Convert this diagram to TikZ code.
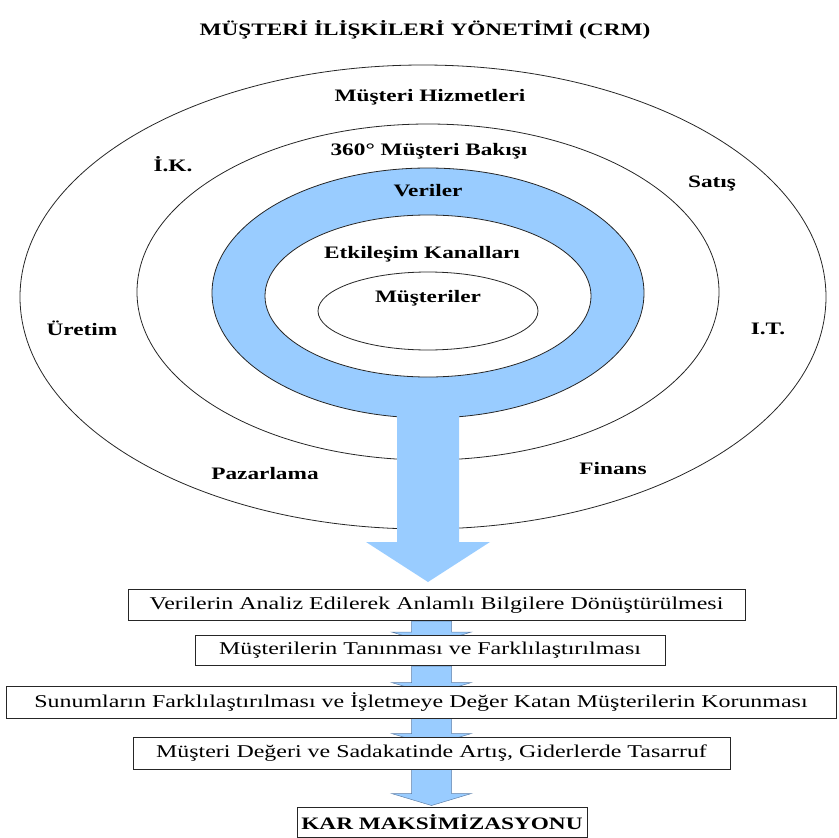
\documentclass[tikz,border=0pt]{standalone}
\usepackage{fontspec}
\setmainfont{Liberation Serif}[FakeStretch=1.33]
\usetikzlibrary{shapes.geometric,calc,backgrounds}

\definecolor{crmblue}{RGB}{153,204,255}
\definecolor{arrowedge}{RGB}{96,128,168}

\tikzset{
  ring/.style={ellipse, draw=black!85, line width=0.8pt, inner sep=0pt},
  lab/.style={font=\fontsize{17.5}{20}\selectfont\bfseries, inner sep=0pt},
  stepbox/.style={draw=black!85, line width=1pt, fill=white, inner sep=0pt,
    font=\fontsize{18}{20}\selectfont, minimum height=31pt},
}

% block arrow between two boxes: from, to, offset of the wings above the lower box
\newcommand\flowarrow[3]{%
  \filldraw[fill=crmblue, draw=arrowedge, line width=0.5pt]
    ($(#1.south -| axis)+(-20,0)$) -- ($(#1.south -| axis)+(20,0)$)
    -- ($(#2.north -| axis)+(20,#3)$) -- ($(#2.north -| axis)+(40,#3)$)
    -- ($(#2.north -| axis)+(0,#3+12)$)
    -- ($(#2.north -| axis)+(-40,#3)$) -- ($(#2.north -| axis)+(-20,#3)$) -- cycle;}

\begin{document}
\begin{tikzpicture}[x=1pt,y=-1pt]
\useasboundingbox (0,0) rectangle (839,838);

\node[lab] (title) at (425,30) {MÜŞTERİ İLİŞKİLERİ YÖNETİMİ (CRM)};

% rings
\node[ring, minimum width=806pt, minimum height=464pt] (hizmet) at (423,297) {};
\node[ring, minimum width=582pt, minimum height=336pt] (bakis) at (428,292) {};
\node[ring, fill=crmblue, minimum width=432pt, minimum height=250pt] (veri) at (428,293) {};
\node[ring, fill=white, minimum width=326pt, minimum height=162pt] (kanal) at (428,296) {};
\node[ring, minimum width=220pt, minimum height=78pt] (musteri) at (428,311) {};

\coordinate (bigaxis) at (428,0);
\coordinate (axis) at (431.5,0);

% boxes
\node[stepbox, minimum width=617pt] (b1) at (436.5,605) {Verilerin Analiz Edilerek Anlamlı Bilgilere Dönüştürülmesi};
\node[stepbox, minimum width=470pt, minimum height=30pt] (b2) at (430,650.5) {Müşterilerin Tanınması ve Farklılaştırılması};
\node[stepbox, minimum width=830pt, minimum height=32pt] (b3) at (421,702) {Sunumların Farklılaştırılması ve İşletmeye Değer Katan Müşterilerin Korunması};
\node[stepbox, minimum width=597pt, minimum height=32pt] (b4) at (431.5,753) {Müşteri Değeri ve Sadakatinde Artış, Giderlerde Tasarruf};
\node[stepbox, minimum width=290pt, minimum height=30pt, font=\fontsize{17.5}{20}\selectfont\bfseries] (b5) at (442,822) {KAR MAKSİMİZASYONU};

% big arrow out of the data ring
\fill[crmblue] ($(veri.south -| bigaxis)+(-31,-25)$) -- ($(veri.south -| bigaxis)+(31,-25)$)
  -- ($(b1.north -| bigaxis)+(31,-47)$) -- ($(b1.north -| bigaxis)+(62,-47)$)
  -- ($(b1.north -| bigaxis)+(0,-7)$)
  -- ($(b1.north -| bigaxis)+(-62,-47)$) -- ($(b1.north -| bigaxis)+(-31,-47)$) -- cycle;

% labels
\node[lab] (l1) at (430,97) {Müşteri Hizmetleri};
\node[lab] (l2) at (429,151) {360° Müşteri Bakışı};
\node[lab] (l3) at (428,191) {Veriler};
\node[lab] (l4) at (422,254) {Etkileşim Kanalları};
\node[lab] (l5) at (428,298) {Müşteriler};
\node[lab] (ik) at (173,164) {İ.K.};
\node[lab] (satis) at (712,184) {Satış};
\node[lab] (uretim) at (82,328) {Üretim};
\node[lab] (it) at (768,329) {I.T.};
\node[lab] (pazar) at (265,474) {Pazarlama};
\node[lab] (finans) at (613,469) {Finans};

\begin{pgfonlayer}{background}
\flowarrow{b1}{b2}{-3}
\flowarrow{b2}{b3}{-3}
\flowarrow{b3}{b4}{-3}
\flowarrow{b4}{b5}{-13}
\end{pgfonlayer}
\end{tikzpicture}
\end{document}
